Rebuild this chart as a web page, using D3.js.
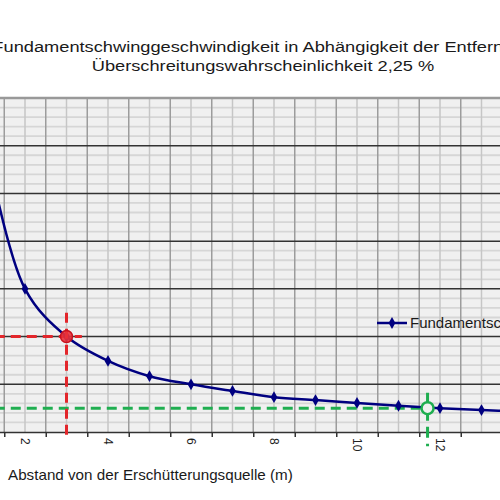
<!DOCTYPE html>
<html>
<head>
    <style>
        body { margin: 0; background: #fff; }
        svg { display: block; font-family: "Liberation Sans", Arial, sans-serif; }
        .title { font-size: 15px; fill: #1a1a1a; text-anchor: middle; }
        .xlab { font-size: 12px; fill: #222; }
        .axtitle { font-size: 14px; fill: #1a1a1a; }
        .legend text { font-size: 15px; fill: #1a1a1a; }
    </style>
    <script src="https://d3js.org/d3.v7.min.js"></script>
</head>
<body>
    <svg width="500" height="500"></svg>
    <script>
        // Messpunkte: Abstand (m) und Schwinggeschwindigkeit
        var distances = [1, 2, 3, 4, 5, 6, 7, 8, 9, 10, 11, 12, 13, 14];
        var velocities = [6.3, 3.0, 2.0, 1.49, 1.17, 1.0, 0.86, 0.73, 0.67, 0.61, 0.55, 0.5, 0.46, 0.43];
        var xTickLabels = [2, 4, 6, 8, 10, 12, 14];
        var seriesName = "Fundamentschwinggeschwindigkeit";

        // Hilfslinien (rot: Ablesung bei 3 m, gruen: Grenzwert 0,5)
        var markX = [3, 11.7];
        var markY = [2.0, 0.5];
        var markColor = ["#e3262b", "#1fae50"];

        var svg = d3.select("svg");

        var x = d3.scaleLinear().domain([0.5, 14.5]).range([-37.25, 543.75]);
        var y = d3.scaleLinear().domain([0, 7]).range([432, 98]);

        // titel (im Original breit gezogen)
        var t1 = svg.append("text").attr("class", "title")
            .text("Fundamentschwinggeschwindigkeit in Abhängigkeit der Entfernung");
        var t2 = svg.append("text").attr("class", "title")
            .text("Überschreitungswahrscheinlichkeit 2,25 %");
        var stretch = 343 / t2.node().getComputedTextLength();
        t1.attr("transform", "translate(263,52) scale(" + stretch + ",1)");
        t2.attr("transform", "translate(263,71) scale(" + stretch + ",1)");

        var plot = svg.append("g");

        plot.append("rect")
            .attr("x", x(0.5)).attr("y", y(7))
            .attr("width", x(14.5) - x(0.5)).attr("height", y(0) - y(7))
            .attr("fill", "#f0f0f0");

        var minorY = d3.range(0, 7.01, 0.2).filter(function(v) { return Math.abs(v - Math.round(v)) > 0.01; });
        plot.selectAll(".hminor").data(minorY).enter().append("line")
            .attr("x1", x(0.5)).attr("x2", x(14.5))
            .attr("y1", function(d) { return y(d); }).attr("y2", function(d) { return y(d); })
            .attr("stroke", "#d6d6d6").attr("stroke-width", 1.8);

        plot.selectAll(".vminor").data(distances).enter().append("line")
            .attr("x1", function(d) { return x(d); }).attr("x2", function(d) { return x(d); })
            .attr("y1", y(7)).attr("y2", y(0))
            .attr("stroke", "#c6c6c6").attr("stroke-width", 1.5);

        var halfSteps = d3.range(0.5, 14.6, 1);
        plot.selectAll(".vmajor").data(halfSteps).enter().append("line")
            .attr("x1", function(d) { return x(d); }).attr("x2", function(d) { return x(d); })
            .attr("y1", y(7)).attr("y2", y(0))
            .attr("stroke", "#9c9c9c").attr("stroke-width", 1.5);

        plot.selectAll(".hmajor").data(d3.range(1, 7)).enter().append("line")
            .attr("x1", x(0.5)).attr("x2", x(14.5))
            .attr("y1", function(d) { return y(d); }).attr("y2", function(d) { return y(d); })
            .attr("stroke", "#333").attr("stroke-width", 1.5);

        plot.append("line")
            .attr("x1", x(0.5)).attr("x2", x(14.5)).attr("y1", y(7)).attr("y2", y(7))
            .attr("stroke", "#999").attr("stroke-width", 2.5);

        // x-achse
        var xAxis = d3.axisBottom(x).tickValues(halfSteps).tickSize(5).tickFormat("");
        var gx = svg.append("g").attr("transform", "translate(0," + y(0) + ")").call(xAxis);
        gx.select(".domain").attr("stroke", "#333").attr("stroke-width", 1.5);
        gx.selectAll(".tick line").attr("stroke", "#333").attr("stroke-width", 1.5);

        svg.selectAll(".xlab").data(xTickLabels).enter().append("text")
            .attr("class", "xlab")
            .attr("transform", function(d) { return "translate(" + x(d) + "," + (y(0) + 6) + ") rotate(90)"; })
            .attr("dy", "0.35em")
            .text(function(d) { return d; });

        var at = svg.append("text").attr("class", "axtitle")
            .text("Abstand von der Erschütterungsquelle (m)");
        var atStretch = 285 / at.node().getComputedTextLength();
        at.attr("transform", "translate(8,480) scale(" + atStretch + ",1)");

        // rote Ablesung
        var dashes = "10,6";
        plot.append("line")
            .attr("x1", x(0.5)).attr("x2", x(markX[0] + 0.37))
            .attr("y1", y(markY[0])).attr("y2", y(markY[0]))
            .attr("stroke", markColor[0]).attr("stroke-width", 3).attr("stroke-dasharray", dashes);
        svg.append("line")
            .attr("x1", x(markX[0])).attr("x2", x(markX[0]))
            .attr("y1", y(markY[0] + 0.5)).attr("y2", y(-0.12))
            .attr("stroke", markColor[0]).attr("stroke-width", 3).attr("stroke-dasharray", dashes);

        // gruene Ablesung
        plot.append("line")
            .attr("x1", x(0.5)).attr("x2", x(markX[1]))
            .attr("y1", y(markY[1])).attr("y2", y(markY[1]))
            .attr("stroke", markColor[1]).attr("stroke-width", 3).attr("stroke-dasharray", dashes);
        svg.append("line")
            .attr("x1", x(markX[1])).attr("x2", x(markX[1]))
            .attr("y1", y(markY[1] + 0.32)).attr("y2", y(-0.3))
            .attr("stroke", markColor[1]).attr("stroke-width", 3).attr("stroke-dasharray", "11,6");

        // datenreihe
        var pts = distances.map(function(d, i) { return [d, velocities[i]]; });
        var line = d3.line()
            .x(function(d) { return x(d[0]); })
            .y(function(d) { return y(d[1]); })
            .curve(d3.curveCatmullRom);

        plot.append("path").datum(pts)
            .attr("d", line).attr("fill", "none")
            .attr("stroke", "#000080").attr("stroke-width", 2.5);

        var diamond = d3.symbol().type(d3.symbolDiamond).size(40);
        plot.selectAll(".pt").data(pts).enter().append("path")
            .attr("d", diamond)
            .attr("transform", function(d) { return "translate(" + x(d[0]) + "," + y(d[1]) + ")"; })
            .attr("fill", "#000080");

        // ablesepunkte
        svg.append("circle").attr("cx", x(markX[0])).attr("cy", y(markY[0])).attr("r", 6)
            .attr("fill", "#e8313a").attr("stroke", "#c8101c").attr("stroke-width", 1.5).attr("fill-opacity", 0.9);
        svg.append("circle").attr("cx", x(markX[1])).attr("cy", y(markY[1])).attr("r", 6)
            .attr("fill", "#f0f0f0").attr("stroke", markColor[1]).attr("stroke-width", 2.5);

        // legende
        var lg = svg.append("g").attr("class", "legend").attr("transform", "translate(377,323)");
        lg.append("line").attr("x1", 0).attr("x2", 30).attr("y1", 0).attr("y2", 0)
            .attr("stroke", "#000080").attr("stroke-width", 2.5);
        lg.append("path").attr("d", diamond).attr("transform", "translate(15,0)").attr("fill", "#000080");
        lg.append("text").attr("x", 33).attr("y", 0).attr("dy", "0.35em").text(seriesName);
    </script>
</body>
</html>
